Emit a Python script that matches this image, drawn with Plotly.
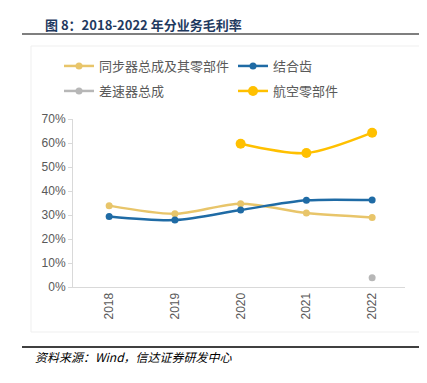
import plotly.graph_objects as go

years = ["2018", "2019", "2020", "2021", "2022"]
s_sync = [33.9, 30.5, 34.7, 30.8, 29.0]
s_gear = [29.4, 27.9, 32.1, 36.1, 36.2]
s_diff = [None, None, None, None, 3.9]
s_aero = [None, None, 59.7, 55.8, 64.3]
names = ["同步器总成及其零部件", "结合齿", "差速器总成", "航空零部件"]
colors = ["#E8C56A", "#1F6BA5", "#B7B7B7", "#FFC000"]
msizes = [7, 7, 7, 10]
legends = ["legend", "legend", "legend2", "legend2"]
yticks = [0, 10, 20, 30, 40, 50, 60, 70]
yticklabels = [f"{v}%" for v in yticks]

OFF = 8  # page body margin
W, H = 427 - OFF, 383 - OFF
# screen coords of plot area
L_s, R_s, T_s, B_s = 73, 405, 119, 287
ml, mr, mt, mb = L_s - OFF, W - (R_s - OFF), T_s - OFF, H - (B_s - OFF)
pw, ph = W - ml - mr, H - mt - mb


def px(x):
    return (x - OFF - ml) / pw


def py(y):
    return 1 - (y - OFF - mt) / ph


fig = go.Figure()
for name, vals, col, ms, lg in zip(names, [s_sync, s_gear, s_diff, s_aero], colors, msizes, legends):
    fig.add_trace(go.Scatter(
        x=years, y=vals, name=name, mode="lines+markers",
        line=dict(color=col, width=2.5, shape="spline", smoothing=0.8),
        marker=dict(color=col, size=ms),
        connectgaps=False, legend=lg,
    ))

leg_common = dict(
    orientation="h", xanchor="left", yanchor="middle",
    entrywidth=129, entrywidthmode="pixels",
    font=dict(family="Noto Sans CJK SC", size=13, color="#595959"),
    itemclick=False, bgcolor="rgba(0,0,0,0)",
)
fig.update_layout(
    width=W, height=H,
    margin=dict(l=ml, r=mr, t=mt, b=mb),
    paper_bgcolor="white", plot_bgcolor="white",
    font=dict(family="Liberation Sans, Noto Sans CJK SC", color="#595959", size=12),
    showlegend=True,
    legend=dict(x=px(59), y=py(66), **leg_common),
    legend2=dict(x=px(59), y=py(91), **leg_common),
    xaxis=dict(
        type="category", showgrid=False, showline=True, linecolor="#D9D9D9", linewidth=1,
        ticks="", tickangle=-90, tickfont=dict(size=12, color="#595959"),
        range=[-0.55, 4.5], zeroline=False,
    ),
    yaxis=dict(
        range=[0, 70], tickvals=yticks, ticktext=yticklabels, showgrid=False,
        showline=True, linecolor="#D9D9D9", linewidth=1, ticks="outside", ticklen=4,
        tickcolor="#D9D9D9", tickfont=dict(size=12, color="#595959"), zeroline=False,
    ),
)

fig.add_shape(type="rect", xref="paper", yref="paper", layer="below",
              x0=px(31), x1=px(422), y0=py(332), y1=py(46),
              line=dict(color="#EFEFEF", width=1))
fig.add_shape(type="line", xref="paper", yref="paper", x0=px(22), x1=px(423), y0=py(34), y1=py(34),
              line=dict(color="#7F7F7F", width=2))
fig.add_shape(type="line", xref="paper", yref="paper", x0=px(22), x1=px(423), y0=py(347), y1=py(347),
              line=dict(color="#000000", width=1.5))
fig.add_annotation(xref="paper", yref="paper", x=px(43), y=py(24), xanchor="left", yanchor="middle",
                   text="<b>图 8：2018-2022 年分业务毛利率</b>", showarrow=False,
                   font=dict(family="Noto Sans CJK SC", size=13, color="#1F3A5F"))
fig.add_annotation(xref="paper", yref="paper", x=px(33), y=py(356), xanchor="left", yanchor="middle",
                   text="<i>资料来源：Wind，信达证券研发中心</i>", showarrow=False,
                   font=dict(family="Noto Sans CJK SC", size=12, color="#000000"))

fig.write_html("out.html")
